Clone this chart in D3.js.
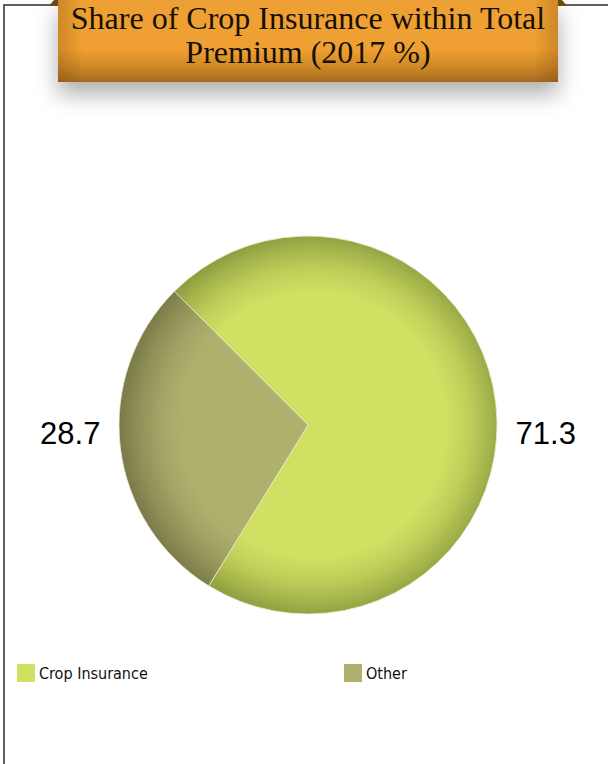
<!DOCTYPE html>
<html>
<head>
<meta charset="utf-8">
<script src="https://cdn.jsdelivr.net/npm/d3@7/dist/d3.min.js"></script>
<style>
  html, body { margin: 0; padding: 0; background: #ffffff; }
  svg { display: block; }
</style>
</head>
<body>
<script>
// Premium split for 2017, in percent
const categories = ["Crop Insurance", "Other"];
const shares = [71.3, 28.7];
const sliceColors = ["#d0e062", "#b0b06e"];
const edgeColors = ["#8a983e", "#7a7a4a"];
const titleLines = ["Share of Crop Insurance within Total", "Premium (2017 %)"];

const W = 608, H = 764;
const svg = d3.select("body").append("svg").attr("width", W).attr("height", H);
const defs = svg.append("defs");

// Outer frame
svg.append("rect")
  .attr("x", 4).attr("y", 5).attr("width", 700).attr("height", 800)
  .attr("fill", "none").attr("stroke", "#3a3a3a").attr("stroke-width", 1.6);

// ---- Title ribbon ----
const bx = 58, bw = 500, bh = 82;

const shadow = defs.append("filter").attr("id", "banner-shadow")
  .attr("x", "-20%").attr("y", "-20%").attr("width", "140%").attr("height", "180%");
shadow.append("feDropShadow").attr("dx", 0).attr("dy", 12)
  .attr("stdDeviation", 11).attr("flood-color", "#000").attr("flood-opacity", 0.32);

const vGrad = defs.append("linearGradient").attr("id", "banner-v")
  .attr("x1", 0).attr("y1", 0).attr("x2", 0).attr("y2", 1);
[[0, "#eda034"], [0.6, "#f0a030"], [0.8, "#d08a28"], [1, "#a66a1f"]]
  .forEach(([o, c]) => vGrad.append("stop").attr("offset", o).attr("stop-color", c));

const hGrad = defs.append("linearGradient").attr("id", "banner-h")
  .attr("x1", 0).attr("y1", 0).attr("x2", 1).attr("y2", 0);
[[0, 0.22], [0.05, 0], [0.95, 0], [1, 0.22]]
  .forEach(([o, a]) => hGrad.append("stop").attr("offset", o)
    .attr("stop-color", "#5a3000").attr("stop-opacity", a));

// folded ribbon ends
svg.append("polygon").attr("points", `${bx - 9},6 ${bx - 4},0 ${bx},0 ${bx},6`).attr("fill", "#6e4a12");
svg.append("polygon").attr("points", `${bx + bw},0 ${bx + bw + 4},0 ${bx + bw + 9},6 ${bx + bw},6`).attr("fill", "#6e4a12");

svg.append("rect").attr("x", bx).attr("y", 0).attr("width", bw).attr("height", bh)
  .attr("fill", "url(#banner-v)").attr("filter", "url(#banner-shadow)");
svg.append("rect").attr("x", bx).attr("y", 0).attr("width", bw).attr("height", bh)
  .attr("fill", "url(#banner-h)");

svg.append("text")
  .attr("x", bx + bw / 2).attr("y", 29)
  .attr("text-anchor", "middle")
  .attr("font-family", "'Liberation Serif', 'DejaVu Serif', serif")
  .attr("font-size", 32).attr("fill", "#151008")
  .selectAll("tspan").data(titleLines).join("tspan")
  .attr("x", bx + bw / 2).attr("dy", (d, i) => i === 0 ? 0 : 34)
  .text(d => d);

// ---- Pie ----
const cx = 308, cy = 425, r = 189;
const data = categories.map((c, i) => ({ name: c, value: shares[i], i }));

const pie = d3.pie().sort(null).value(d => d.value)
  .startAngle(315 * Math.PI / 180).endAngle(675 * Math.PI / 180);
const arc = d3.arc().innerRadius(0).outerRadius(r);
const arcs = pie(data);

// soft bevel toward the rim
data.forEach((d, i) => {
  const mix = d3.interpolateRgb(sliceColors[i], edgeColors[i]);
  const g = defs.append("radialGradient").attr("id", "slice-" + i)
    .attr("gradientUnits", "userSpaceOnUse")
    .attr("cx", 6).attr("cy", 0).attr("r", r + 6)
    .attr("fx", 6).attr("fy", 0);
  [[0, sliceColors[i]], [0.68, sliceColors[i]], [0.8, mix(0.25)], [0.9, mix(0.6)], [1, edgeColors[i]]]
    .forEach(([o, c]) => g.append("stop").attr("offset", o).attr("stop-color", c));
});

const gPie = svg.append("g").attr("transform", `translate(${cx},${cy})`);
gPie.selectAll("path").data(arcs).join("path")
  .attr("d", arc)
  .attr("fill", d => `url(#slice-${d.data.i})`)
  .attr("stroke", "#e8eccc").attr("stroke-width", 0.8);

// value labels outside each slice, on its side of the pie
const labelR = r + 20;
gPie.selectAll("text.val").data(arcs).join("text")
  .attr("class", "val")
  .attr("x", d => {
    const a = (d.startAngle + d.endAngle) / 2;
    return Math.sin(a) * labelR;
  })
  .attr("y", 19)
  .attr("text-anchor", d => Math.sin((d.startAngle + d.endAngle) / 2) < 0 ? "end" : "start")
  .attr("font-family", "'Liberation Sans', Arial, sans-serif")
  .attr("font-size", 31).attr("fill", "#000")
  .text(d => d.value.toFixed(1));

// ---- Legend ----
const legendX = d3.scalePoint().domain(categories).range([17, 344]);
const lg = svg.append("g").selectAll("g").data(data).join("g")
  .attr("transform", d => `translate(${legendX(d.name)},664)`);
lg.append("rect").attr("width", 18).attr("height", 18).attr("fill", d => sliceColors[d.i]);
lg.append("text").attr("x", 22).attr("y", 15)
  .attr("font-family", "'DejaVu Sans Condensed', 'DejaVu Sans', sans-serif")
  .attr("font-stretch", "condensed")
  .attr("font-size", 16).attr("fill", "#111")
  .text(d => d.name);
</script>
</body>
</html>
